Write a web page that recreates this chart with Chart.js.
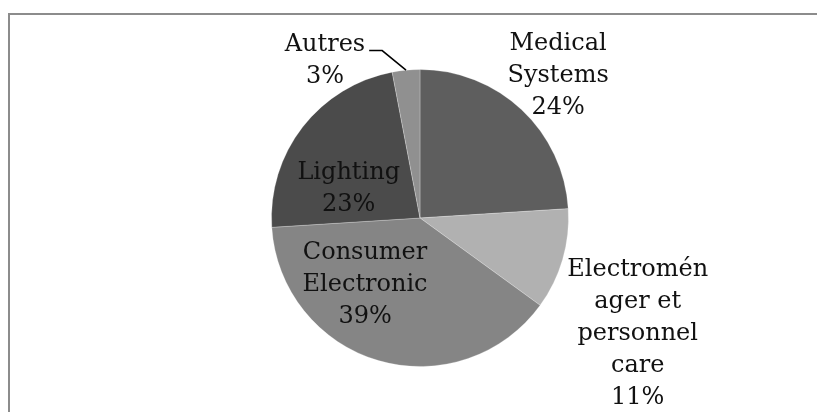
<!DOCTYPE html>
<html>
<head>
<meta charset="utf-8">
<script src="https://cdn.jsdelivr.net/npm/chart.js@4/dist/chart.umd.min.js"></script>
<style>
  html, body { margin: 0; padding: 0; background: #fff; overflow: hidden; }
  #frame {
    position: absolute; left: 8px; top: 13px; width: 900px; height: 500px;
    border: 2px solid #8c8c8c;
  }
  #wrap { position: absolute; left: 0; top: 0; width: 817px; height: 412px; }
</style>
</head>
<body>
<div id="frame"></div>
<div id="wrap"><canvas id="pie" width="817" height="412"></canvas></div>
<script>
// Data
const categories = ['Medical Systems', 'Electroménager et personnel care', 'Consumer Electronic', 'Lighting', 'Autres'];
const labelLines = [
  ['Medical', 'Systems'],
  ['Electromén', 'ager et', 'personnel', 'care'],
  ['Consumer', 'Electronic'],
  ['Lighting'],
  ['Autres'],
];
const shares = [24, 11, 39, 23, 3];

const sliceColors = ['#5e5e5e', '#b1b1b1', '#858585', '#4b4b4b', '#909090'];

// label placement, as multiples of the radius from the pie centre
const labelPlace = [
  [0.93, -0.96],
  [1.466, 0.78],
  [-0.37, 0.45],
  [-0.48, -0.20],
  [-0.64, -1.06],
];

const FONT = "24px 'DejaVu Serif', serif";
const LINE_H = 32;

const sliceLabels = {
  id: 'sliceLabels',
  afterDatasetsDraw(chart) {
    const ctx = chart.ctx;
    const meta = chart.getDatasetMeta(0);
    ctx.save();
    ctx.font = FONT;
    ctx.fillStyle = '#111';
    ctx.textAlign = 'center';
    ctx.textBaseline = 'middle';
    meta.data.forEach((arc, i) => {
      const r = arc.outerRadius;
      const lines = labelLines[i].concat([shares[i] + '%']);
      const cx = arc.x + labelPlace[i][0] * r;
      const cy = arc.y + labelPlace[i][1] * r;
      const top = cy - (lines.length - 1) * LINE_H / 2;
      lines.forEach((t, k) => ctx.fillText(t, cx, top + k * LINE_H));

      // leader line for the small slice
      if (i === 4) {
        const mid = (arc.startAngle + arc.endAngle) / 2;
        const ex = arc.x + Math.cos(mid) * r;
        const ey = arc.y + Math.sin(mid) * r;
        const w = ctx.measureText(labelLines[i][0]).width;
        const ly = top + 6;
        const lx0 = cx + w / 2 + 4;
        ctx.beginPath();
        ctx.strokeStyle = '#000';
        ctx.lineWidth = 1.5;
        ctx.moveTo(lx0, ly);
        ctx.lineTo(lx0 + 13, ly);
        ctx.lineTo(ex, ey);
        ctx.stroke();
      }
    });
    ctx.restore();
  }
};

new Chart(document.getElementById('pie'), {
  type: 'pie',
  data: {
    labels: categories,
    datasets: [{
      data: shares,
      backgroundColor: sliceColors,
      borderColor: 'rgba(255,255,255,0.25)',
      borderWidth: 1,
    }]
  },
  options: {
    responsive: false,
    animation: false,
    layout: { padding: { top: 69, bottom: 45, left: 271, right: 248 } },
    plugins: {
      legend: { display: false },
      tooltip: { enabled: false },
    }
  },
  plugins: [sliceLabels]
});
</script>
</body>
</html>
